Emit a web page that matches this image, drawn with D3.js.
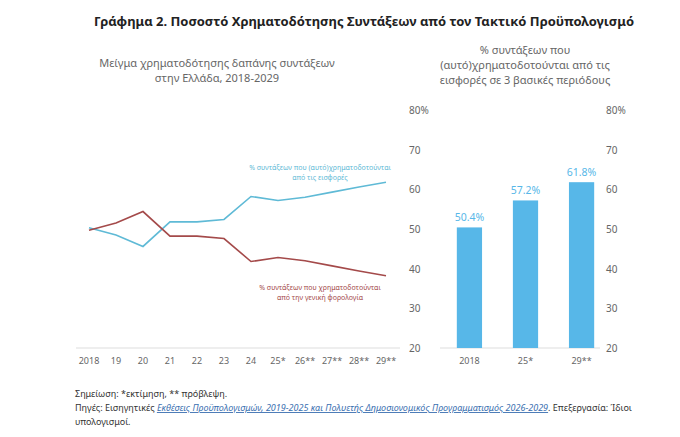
<!DOCTYPE html><html><head><meta charset="utf-8"><script src="https://cdn.jsdelivr.net/npm/d3@7"></script>
<style>body{margin:0;background:#fff}text{font-family:"Noto Sans",sans-serif}</style></head><body><svg id="c" width="680" height="437"></svg>
<script>
const years=["2018","19","20","21","22","23","24","25*","26**","27**","28**","29**"];
const selfFunded=[50.3,48.5,45.6,51.8,51.8,52.4,58.2,57.2,58.0,59.3,60.6,61.8];
const taxFunded=[49.7,51.5,54.4,48.2,48.2,47.6,41.8,42.8,42.0,40.7,39.4,38.2];
const barCats=["2018","25*","29**"];
const barVals=[50.4,57.2,61.8];
const yTicks=[20,30,40,50,60,70,80];
const svg=d3.select("#c");
svg.append("text").attr("x",364).attr("y",26).attr("text-anchor","middle").attr("font-size",13).attr("font-weight","bold").attr("fill","#222").text("Γράφημα 2. Ποσοστό Χρηματοδότησης Συντάξεων από τον Τακτικό Προϋπολογισμό");
const g="#666";
[["Μείγμα χρηματοδότησης δαπάνης συντάξεων",67],["στην Ελλάδα, 2018-2029",82]].forEach(d=>svg.append("text").attr("x",217).attr("y",d[1]).attr("text-anchor","middle").attr("font-size",11).attr("fill",g).text(d[0]));
[["% συντάξεων που",54],["(αυτό)χρηματοδοτούνται από τις",69],["εισφορές σε 3 βασικές περιόδους",84]].forEach(d=>svg.append("text").attr("x",525).attr("y",d[1]).attr("text-anchor","middle").attr("font-size",11).attr("fill",g).text(d[0]));
const y=d3.scaleLinear().domain([20,80]).range([348,110]);
const x=d3.scalePoint().domain(years).range([89,386]);
svg.append("line").attr("x1",76).attr("x2",400).attr("y1",348).attr("y2",348).attr("stroke","#ddd");
years.forEach(t=>svg.append("text").attr("x",x(t)).attr("y",364).attr("text-anchor","middle").attr("font-size",9).attr("fill",g).text(t));
function axis(ax){yTicks.forEach(t=>svg.append("text").attr("x",ax).attr("y",y(t)+4).attr("text-anchor","start").attr("font-size",10).attr("fill",g).text(t==80?"80%":t));}
axis(409);axis(606);
const ln=d3.line().x((d,i)=>x(years[i])).y(d=>y(d));
svg.append("path").attr("d",ln(selfFunded)).attr("fill","none").attr("stroke","#5fbad6").attr("stroke-width",1.6);
svg.append("path").attr("d",ln(taxFunded)).attr("fill","none").attr("stroke","#a44a4a").attr("stroke-width",1.6);
[["% συντάξεων που (αυτό)χρηματοδοτούνται",170],["από τις εισφορές",180]].forEach(d=>svg.append("text").attr("x",320).attr("y",d[1]).attr("text-anchor","middle").attr("font-size",7).attr("fill","#5fbad6").text(d[0]));
[["% συντάξεων που χρηματοδοτούνται",290],["από την γενική φορολογία",300]].forEach(d=>svg.append("text").attr("x",320).attr("y",d[1]).attr("text-anchor","middle").attr("font-size",7).attr("fill","#a44a4a").text(d[0]));
const xb=d3.scaleBand().domain(barCats).range([440,611]).paddingInner(0.55).paddingOuter(0.3);
svg.append("line").attr("x1",440).attr("x2",600).attr("y1",348).attr("y2",348).attr("stroke","#ddd");
barCats.forEach((c,i)=>{
svg.append("rect").attr("x",xb(c)).attr("width",xb.bandwidth()).attr("y",y(barVals[i])).attr("height",348-y(barVals[i])).attr("fill","#57b7e8");
svg.append("text").attr("x",xb(c)+xb.bandwidth()/2).attr("y",y(barVals[i])-6).attr("text-anchor","middle").attr("font-size",10.5).attr("fill","#57b7e8").text(barVals[i].toFixed(1)+"%");
svg.append("text").attr("x",xb(c)+xb.bandwidth()/2).attr("y",364).attr("text-anchor","middle").attr("font-size",9).attr("fill",g).text(c);
});
svg.append("text").attr("x",75).attr("y",397).attr("font-size",9).attr("fill","#333").text("Σημείωση: *εκτίμηση, ** πρόβλεψη.");
const t=svg.append("text").attr("x",75).attr("y",411).attr("font-size",9).attr("fill","#333");
t.append("tspan").text("Πηγές: Εισηγητικές ");
t.append("tspan").attr("fill","#3a6fb0").attr("text-decoration","underline").attr("font-style","italic").text("Εκθέσεις Προϋπολογισμών, 2019-2025 και Πολυετής Δημοσιονομικός Προγραμματισμός 2026-2029");
t.append("tspan").text(". Επεξεργασία: Ίδιοι");
svg.append("text").attr("x",75).attr("y",425).attr("font-size",9).attr("fill","#333").text("υπολογισμοί.");
</script></body></html>
